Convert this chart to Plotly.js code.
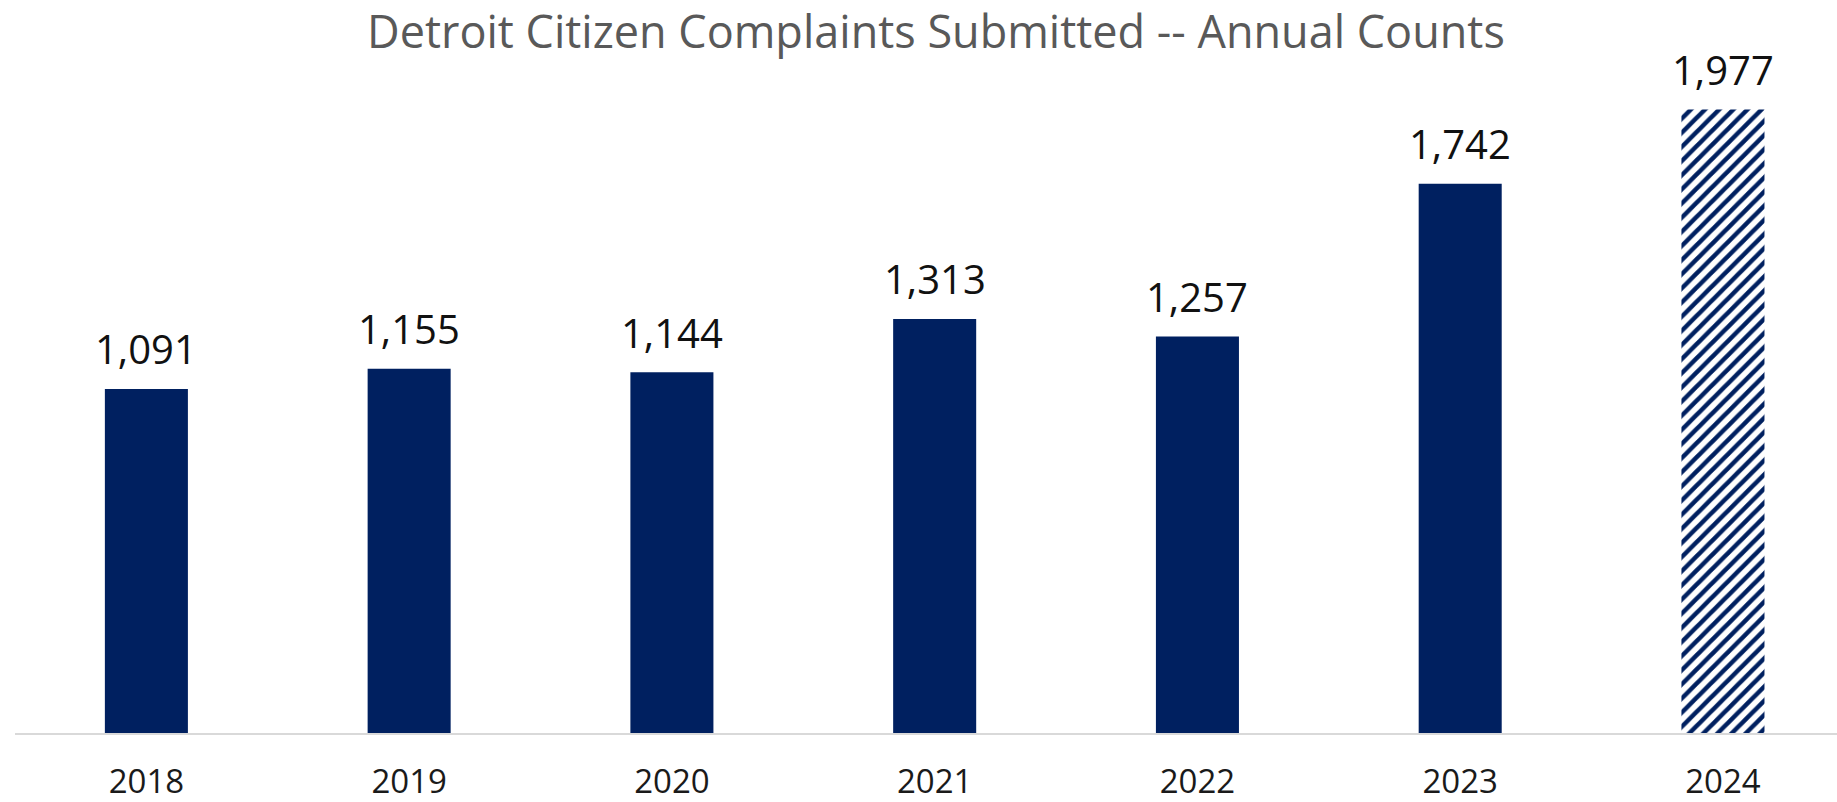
<!DOCTYPE html>
<html>
<head>
<meta charset="utf-8">
<script src="https://cdn.plot.ly/plotly-3.0.1.min.js"></script>
<style>html,body{margin:0;padding:0;background:#fff}#chart{width:1837px;height:802px}</style>
</head>
<body>
<div id="chart"></div>
<script>
const years = ['2018', '2019', '2020', '2021', '2022', '2023', '2024'];
const complaints = [1091, 1155, 1144, 1313, 1257, 1742, 1977];
const patternShapes = ['', '', '', '', '', '', '/'];
const titleText = 'Detroit Citizen Complaints Submitted -- Annual Counts';

const navy = '#002060';
const labelFont = {family: 'Open Sans, sans-serif', size: 40, color: '#111111'};

const trace = {
  type: 'bar',
  x: years,
  y: complaints,
  marker: {
    color: navy,
    line: {width: 0},
    pattern: {shape: patternShapes, fgcolor: navy, bgcolor: '#ffffff', size: 10, solidity: 0.45}
  },
  hoverinfo: 'skip'
};

const annotations = years.map((yr, i) => ({
  x: i, y: complaints[i], xref: 'x', yref: 'y',
  text: complaints[i].toLocaleString('en-US'),
  showarrow: false, yanchor: 'middle', yshift: 40,
  font: labelFont
}));

const layout = {
  width: 1837, height: 802,
  margin: {l: 15, r: 0, t: 60, b: 69},
  paper_bgcolor: '#ffffff', plot_bgcolor: '#ffffff',
  bargap: 0.684,
  showlegend: false,
  title: {
    text: titleText,
    font: {family: 'Open Sans, sans-serif', size: 45, color: '#595959'},
    x: 0.5095, xanchor: 'center', xref: 'container',
    y: 0.96, yanchor: 'middle', yref: 'container'
  },
  xaxis: {
    type: 'category',
    range: [-0.5, 6.434],
    showline: true, linecolor: '#d9d9d9', linewidth: 2,
    ticks: '', showgrid: false, zeroline: false,
    ticklabelstandoff: 18,
    tickfont: {family: 'Open Sans, sans-serif', size: 33, color: '#1a1a1a'}
  },
  yaxis: {
    range: [0, 2134], visible: false, showgrid: false, zeroline: false
  },
  annotations: annotations
};

Plotly.newPlot('chart', [trace], layout, {displayModeBar: false, staticPlot: true});
</script>
</body>
</html>
